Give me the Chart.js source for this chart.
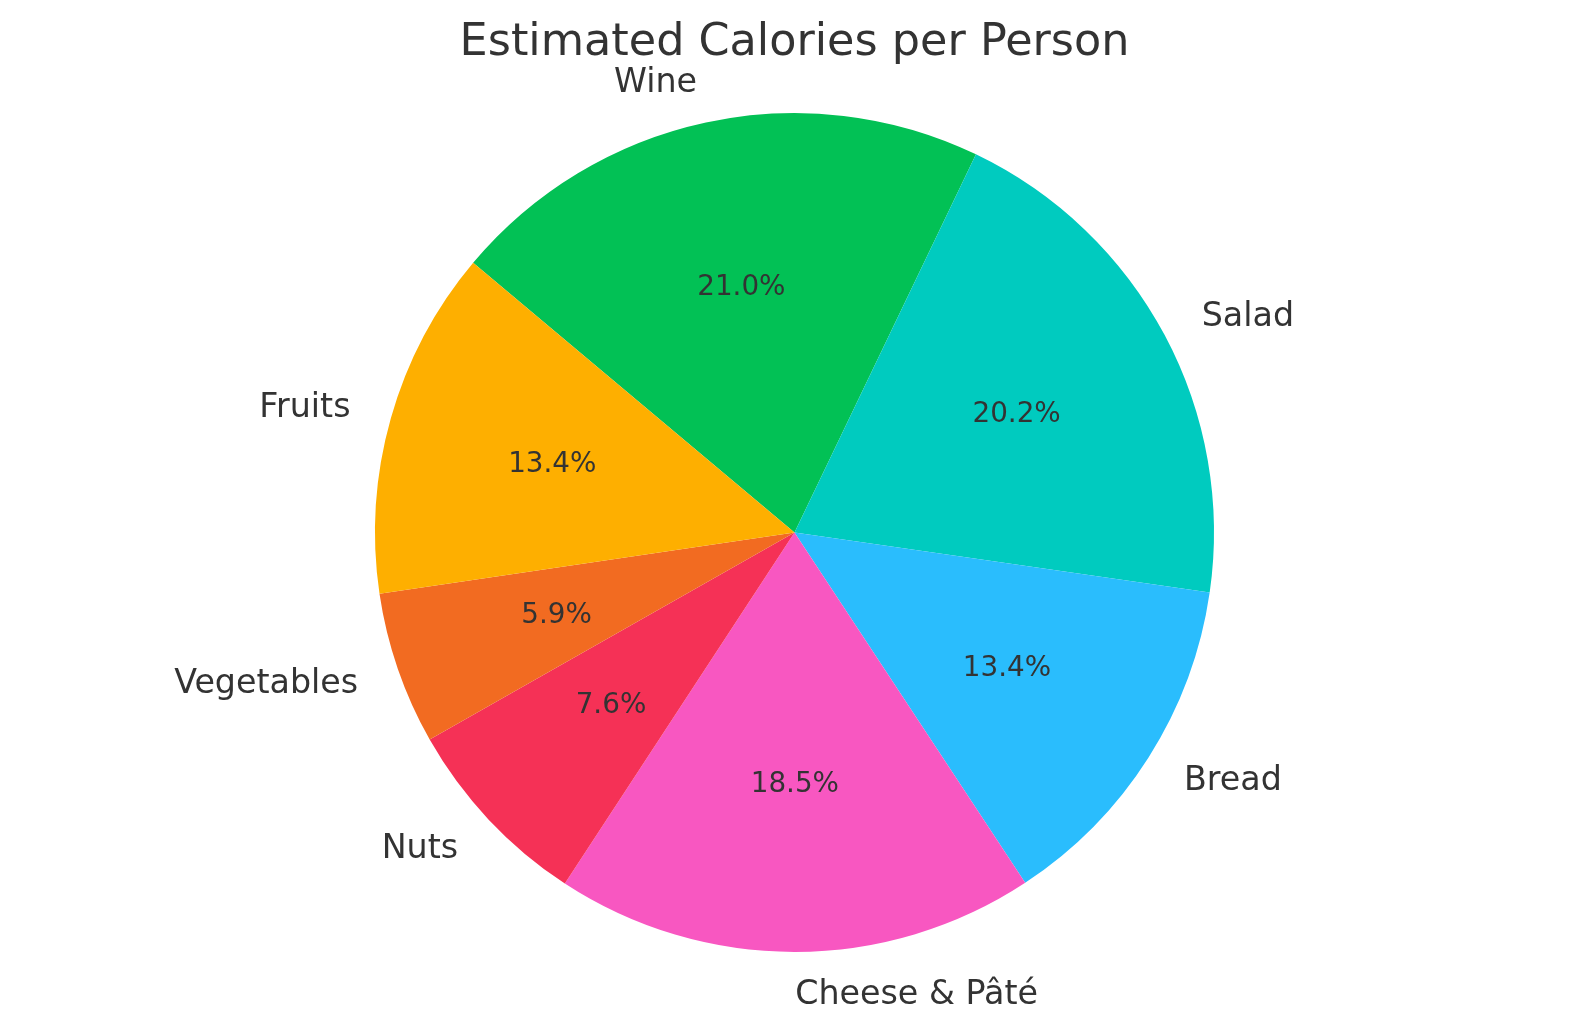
<!DOCTYPE html>
<html>
<head>
<meta charset="utf-8">
<script src="https://cdn.jsdelivr.net/npm/chart.js@4/dist/chart.umd.min.js"></script>
<style>
html,body{margin:0;padding:0;background:#fff;}
#wrap{width:1589px;height:1031px;position:relative;}
</style>
</head>
<body>
<div id="wrap"><canvas id="c" width="1589" height="1031"></canvas></div>
<script>
const titleText = "Estimated Calories per Person";
const categories = ["Wine", "Salad", "Bread", "Cheese & Pâté", "Nuts", "Vegetables", "Fruits"];
const calories = [250, 240, 160, 220, 90, 70, 160];
const colors = ["#02c155", "#00cbbf", "#2abdfd", "#f857c1", "#f53156", "#f26b21", "#feaf00"];

const textColor = "#333333";
const fontFamily = "'DejaVu Sans', sans-serif";

const labelPlugin = {
  id: 'mplLabels',
  afterDraw(chart) {
    const ctx = chart.ctx;
    const meta = chart.getDatasetMeta(0);
    const data = chart.data.datasets[0].data;
    const total = data.reduce((a, b) => a + b, 0);
    ctx.save();
    ctx.fillStyle = textColor;
    meta.data.forEach((arc, i) => {
      const p = arc.getProps(['x', 'y', 'startAngle', 'endAngle', 'outerRadius'], true);
      const mid = (p.startAngle + p.endAngle) / 2;
      const c = Math.cos(mid), s = Math.sin(mid);
      // outer label
      ctx.font = "33.3px " + fontFamily;
      ctx.textBaseline = 'middle';
      ctx.textAlign = c > 0 ? 'left' : (c < 0 ? 'right' : 'center');
      ctx.fillText(chart.data.labels[i], p.x + 1.1 * p.outerRadius * c, p.y + 1.1 * p.outerRadius * s + 1.5);
      // percentage
      ctx.font = "27.8px " + fontFamily;
      ctx.textAlign = 'center';
      const pct = (data[i] / total * 100).toFixed(1) + '%';
      ctx.fillText(pct, p.x + 0.6 * p.outerRadius * c, p.y + 0.6 * p.outerRadius * s + 1);
    });
    // title
    ctx.font = "44.5px " + fontFamily;
    ctx.textAlign = 'center';
    ctx.textBaseline = 'alphabetic';
    ctx.fillText(titleText, chart.width / 2, 55);
    ctx.restore();
  }
};

new Chart(document.getElementById('c'), {
  type: 'pie',
  data: {
    labels: categories,
    datasets: [{
      data: calories,
      backgroundColor: colors,
      borderWidth: 0
    }]
  },
  options: {
    responsive: false,
    animation: false,
    rotation: -50,
    layout: { padding: { top: 113, bottom: 79, left: 0, right: 0 } },
    plugins: {
      legend: { display: false },
      tooltip: { enabled: false },
      title: { display: false }
    }
  },
  plugins: [labelPlugin]
});
</script>
</body>
</html>
